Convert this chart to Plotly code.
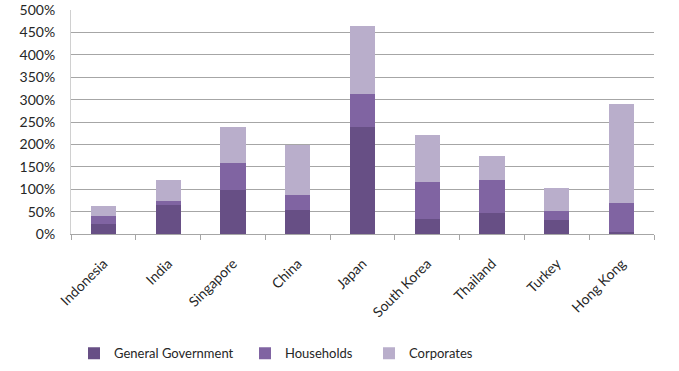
import plotly.graph_objects as go

countries = ["Indonesia", "India", "Singapore", "China", "Japan",
             "South Korea", "Thailand", "Turkey", "Hong Kong"]
general_government = [23, 65, 99, 54, 238, 34, 47, 32, 5]
households = [18, 8.5, 60, 34, 74, 82, 73, 20, 65]
corporates = [21, 46.5, 80, 111, 152, 105, 54, 50, 220]
y_ticks = [0, 50, 100, 150, 200, 250, 300, 350, 400, 450, 500]
y_tick_labels = [f"{v}%" for v in y_ticks]

font_family = "Lato, 'Open Sans', sans-serif"

fig = go.Figure()
fig.add_trace(go.Bar(x=countries, y=general_government, name="General Government",
                     marker=dict(color="#674f85", line=dict(width=0)), legend="legend"))
fig.add_trace(go.Bar(x=countries, y=households, name="Households",
                     marker=dict(color="#8064a2", line=dict(width=0)), legend="legend2"))
fig.add_trace(go.Bar(x=countries, y=corporates, name="Corporates",
                     marker=dict(color="#b9aecb", line=dict(width=0)), legend="legend3"))

def leg(xpx):
    return dict(orientation="h", x=xpx / 679, xref="container", xanchor="left",
                y=0.048, yref="container", yanchor="middle",
                font=dict(size=13, color="#262626"), itemwidth=30,
                bgcolor="rgba(0,0,0,0)")

fig.update_layout(
    barmode="stack",
    bargap=0.61,
    width=679, height=371,
    margin=dict(l=71, r=25, t=10, b=136.5, autoexpand=False),
    paper_bgcolor="white", plot_bgcolor="white",
    font=dict(family=font_family, size=14, color="#262626"),
    showlegend=True,
    legend=leg(74),
    legend2=leg(245),
    legend3=leg(369),
    xaxis=dict(tickangle=-45, showline=True, linecolor="#a6a6a6", linewidth=1,
               ticks="outside", tickson="boundaries", ticklen=5, tickcolor="#a6a6a6",
               showgrid=False, tickfont=dict(size=14), automargin=False,
               ticklabelstandoff=15),
    yaxis=dict(range=[0, 500], tickmode="array", tickvals=y_ticks, ticktext=y_tick_labels,
               showgrid=True, gridcolor="#a6a6a6", gridwidth=1,
               showline=True, linecolor="#d0d0d0", linewidth=1,
               ticks="", tickfont=dict(size=14), zeroline=False, automargin=False,
               ticklabelstandoff=12),
)

fig.write_html("out.html", config={"displayModeBar": False},
               post_script="document.body.style.margin='0px';")
